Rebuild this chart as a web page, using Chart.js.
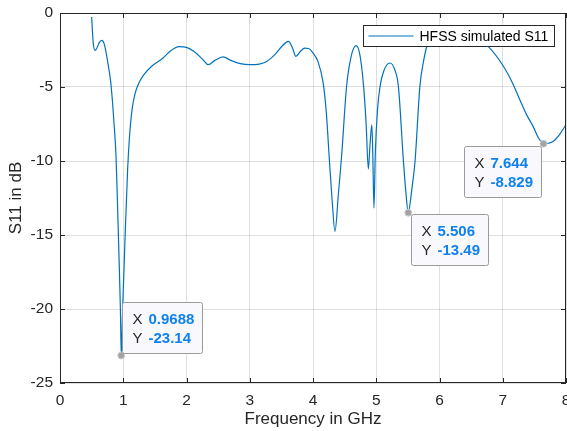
<!DOCTYPE html>
<html>
<head>
<meta charset="utf-8">
<script src="https://cdn.jsdelivr.net/npm/chart.js@4.4.1/dist/chart.umd.min.js"></script>
<style>
  html, body { margin: 0; padding: 0; background: #fff; }
  canvas { display: block; }
</style>
</head>
<body>
<canvas id="myChart" width="567" height="431"></canvas>
<script>
// HFSS simulated S11
var freq = [0.50, 0.525, 0.553, 0.58, 0.62, 0.66, 0.70, 0.75, 0.80, 0.83, 0.86, 0.885, 0.91, 0.935, 0.955, 0.9688,
  0.99, 1.03, 1.07, 1.10, 1.14, 1.19, 1.24, 1.32, 1.45, 1.63, 1.75, 1.88, 2.0, 2.12, 2.25, 2.345, 2.45, 2.58, 2.7, 2.85,
  3.0, 3.15, 3.27, 3.4, 3.52, 3.61, 3.67, 3.73, 3.80, 3.87, 3.93, 4.0, 4.08, 4.16, 4.21, 4.26, 4.30, 4.348,
  4.40, 4.45, 4.53, 4.60, 4.68, 4.74, 4.80, 4.84, 4.875, 4.90, 4.93, 4.945, 4.964, 4.985, 5.02, 5.06, 5.12,
  5.217, 5.29, 5.35, 5.43, 5.47, 5.506, 5.56, 5.613, 5.69, 5.75, 5.80, 5.9, 6.05, 6.2, 6.4, 6.6, 6.77, 7.01,
  7.15, 7.27, 7.38, 7.48, 7.56, 7.644, 7.72, 7.8, 7.9, 8.0];
var s11 = [-0.27, -2.0, -2.53, -2.4, -2.0, -1.85, -2.1, -3.2, -4.6, -6.0, -7.8, -9.6, -13.0, -16.8, -20.0, -23.14,
  -20.0, -15.0, -10.5, -8.3, -6.5, -5.4, -4.8, -4.2, -3.6, -3.04, -2.55, -2.27, -2.32, -2.6, -3.1, -3.49, -3.2, -2.97, -3.2, -3.42,
  -3.49, -3.45, -3.27, -2.8, -2.2, -1.92, -2.3, -2.93, -2.6, -2.38, -2.4, -2.7, -3.3, -4.7, -6.7, -10.0, -12.5, -14.76,
  -12.3, -9.8, -5.0, -3.0, -2.21, -2.8, -4.96, -7.5, -10.54, -9.0, -7.55, -9.5, -13.18, -9.5, -6.53, -4.96, -3.9,
  -3.38, -3.8, -4.96, -10.03, -12.2, -13.49, -12.0, -10.03, -4.96, -3.2, -2.26, -1.6, -1.3, -1.2, -1.3, -1.7, -2.26, -3.6,
  -4.7, -5.86, -6.9, -7.66, -8.4, -8.829, -8.8, -8.67, -8.2, -7.55];

var tipX = [0.9688, 5.506, 7.644];
var tipY = [-23.14, -13.49, -8.829];

var xTickVals = [0, 1, 2, 3, 4, 5, 6, 7, 8];
var yTickVals = [-25, -20, -15, -10, -5, 0];

var fontFam = '"Liberation Sans", Arial, Helvetica, sans-serif';
var axisColor = '#262626';

let chart = document.getElementById('myChart');

// box round the axes plus inward tick marks, like matlab
const axesBox = {
  id: 'axesBox',
  afterDatasetsDraw(c) {
    const ctx = c.ctx;
    const a = c.chartArea;
    const sx = c.scales.x, sy = c.scales.y;
    ctx.save();
    ctx.strokeStyle = axisColor;
    ctx.lineWidth = 1;
    ctx.beginPath();
    xTickVals.forEach(function (v) {
      let px = Math.round(sx.getPixelForValue(v)) + 0.5;
      ctx.moveTo(px, a.bottom); ctx.lineTo(px, a.bottom - 5);
      ctx.moveTo(px, a.top); ctx.lineTo(px, a.top + 5);
    });
    yTickVals.forEach(function (v) {
      let py = Math.round(sy.getPixelForValue(v)) + 0.5;
      ctx.moveTo(a.left, py); ctx.lineTo(a.left + 5, py);
      ctx.moveTo(a.right, py); ctx.lineTo(a.right - 5, py);
    });
    ctx.stroke();
    ctx.strokeRect(Math.round(a.left) + 0.5, Math.round(a.top) + 0.5,
      Math.round(a.right) - Math.round(a.left) - 1, Math.round(a.bottom) - Math.round(a.top) - 1);

    // legend, north east
    let ds = c.data.datasets[1];
    let lw = 191, lh = 21;
    let lx = Math.round(a.right - 12 - lw) + 0.5, ly = Math.round(a.top + 12) + 0.5;
    ctx.fillStyle = '#fff';
    ctx.fillRect(lx, ly, lw, lh);
    ctx.strokeStyle = axisColor;
    ctx.strokeRect(lx, ly, lw, lh);
    ctx.strokeStyle = ds.borderColor;
    ctx.lineWidth = 1.2;
    ctx.beginPath();
    ctx.moveTo(lx + 5, ly + lh / 2); ctx.lineTo(lx + 50, ly + lh / 2);
    ctx.stroke();
    ctx.fillStyle = '#000';
    ctx.font = '14px ' + fontFam;
    ctx.textBaseline = 'middle';
    ctx.fillText(ds.label, lx + 56, ly + lh / 2 + 1);
    ctx.restore();
  }
};

// datatips
const dataTips = {
  id: 'dataTips',
  afterDraw(c) {
    const ctx = c.ctx;
    const sx = c.scales.x, sy = c.scales.y;
    // where each box sits relative to its point
    const place = ['upright', 'downright', 'downleft'];
    ctx.save();
    for (let i = 0; i < tipX.length; i++) {
      let mx = sx.getPixelForValue(tipX[i]);
      let my = sy.getPixelForValue(tipY[i]);
      let xs = String(tipX[i]), ys = String(tipY[i]);
      ctx.font = 'bold 15px ' + fontFam;
      let vw = Math.max(ctx.measureText(xs).width, ctx.measureText(ys).width);
      let w = Math.round(vw + 34), h = 51;
      let bx, by;
      if (place[i] == 'upright') { bx = mx + 0.5; by = my - 2 - h; }
      else if (place[i] == 'downright') { bx = mx + 2.5; by = my + 1.5; }
      else { bx = mx - 2 - w; by = my + 2; }
      bx = Math.round(bx) + 0.5; by = Math.round(by) + 0.5;
      ctx.fillStyle = '#f9f9fd';
      ctx.strokeStyle = '#9a9a9a';
      ctx.lineWidth = 1;
      ctx.beginPath();
      ctx.roundRect(bx, by, w, h, 2);
      ctx.fill();
      ctx.stroke();
      ctx.textBaseline = 'middle';
      ctx.font = '15px ' + fontFam;
      ctx.fillStyle = axisColor;
      ctx.fillText('X', bx + 10, by + 17.5);
      ctx.fillText('Y', bx + 10, by + 36);
      ctx.font = 'bold 15px ' + fontFam;
      ctx.fillStyle = '#0f80f0';
      ctx.fillText(xs, bx + 26, by + 17.5);
      ctx.fillText(ys, bx + 26, by + 36);
    }
    ctx.restore();
  }
};

const config = {
  type: 'line',
  data: {
    datasets: [{
      label: 'datatip',
      data: tipX.map(function (v, i) { return { x: v, y: tipY[i] }; }),
      showLine: false,
      pointRadius: 3.5,
      pointBackgroundColor: '#a3a3a3',
      pointBorderColor: '#cfcfcf',
      pointBorderWidth: 1,
      order: 0
    }, {
      label: 'HFSS simulated S11',
      data: freq.map(function (f, i) { return { x: f, y: s11[i] }; }),
      borderColor: '#0072BD',
      borderWidth: 1.2,
      pointRadius: 0,
      fill: false,
      cubicInterpolationMode: 'monotone',
      order: 1
    }]
  },
  options: {
    responsive: false,
    animation: false,
    devicePixelRatio: 1,
    layout: { autoPadding: false, padding: { top: 13, right: 1, left: 0, bottom: 0 } },
    plugins: {
      legend: { display: false },
      tooltip: { enabled: false }
    },
    scales: {
      x: {
        type: 'linear',
        min: 0,
        max: 8,
        afterBuildTicks: function (s) { s.ticks = xTickVals.map(function (v) { return { value: v }; }); },
        afterFit: function (s) { s.height = 48; s.paddingLeft = 0; s.paddingRight = 0; },
        grid: { color: 'rgba(38,38,38,0.15)', drawTicks: false },
        border: { display: false },
        ticks: { color: axisColor, padding: 8, font: { family: fontFam, size: 15.5 }, maxRotation: 0 },
        title: {
          display: true, text: 'Frequency in GHz', color: axisColor,
          font: { family: fontFam, size: 17, lineHeight: 1.2 }, padding: { top: 0, bottom: 1 }
        }
      },
      y: {
        type: 'linear',
        min: -25,
        max: 0,
        afterBuildTicks: function (s) { s.ticks = yTickVals.map(function (v) { return { value: v }; }); },
        afterFit: function (s) { s.width = 60; s.paddingTop = 0; s.paddingBottom = 0; },
        grid: { color: 'rgba(38,38,38,0.15)', drawTicks: false },
        border: { display: false },
        ticks: { color: axisColor, padding: 7, font: { family: fontFam, size: 15.5 } },
        title: {
          display: true, text: 'S11 in dB', color: axisColor,
          font: { family: fontFam, size: 17, lineHeight: 1.2 }, padding: { top: 6, bottom: 0 }
        }
      }
    }
  },
  plugins: [axesBox, dataTips]
};

var myChart = new Chart(chart, config);
</script>
</body>
</html>
